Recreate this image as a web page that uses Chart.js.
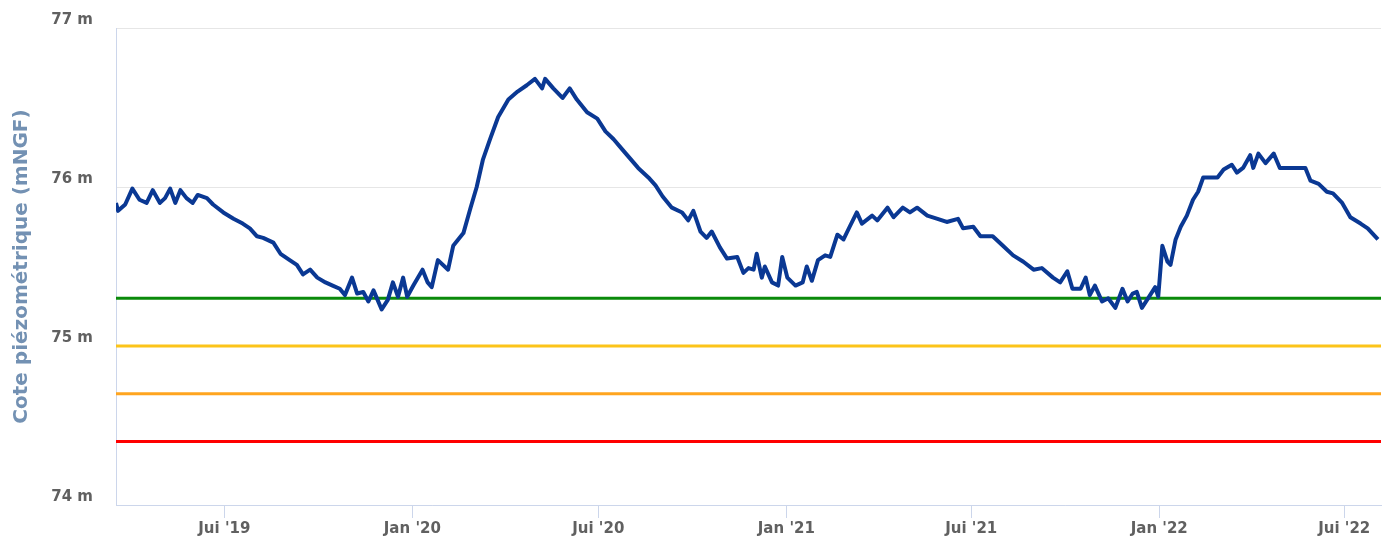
<html>
<head>
  <meta charset="utf-8">
  <title>Cote piézométrique</title>
  <script src="https://cdn.jsdelivr.net/npm/chart.js"></script>
  <style>
    body { margin: 0; background: white; }
    #wrap { width: 1390px; height: 540px; }
  </style>
</head>
<body>
<div id="wrap"><canvas id="chart" width="1390" height="540"></canvas></div>

<script>
// first day shown on the x axis, all offsets count days from it
const startDate = '2019-03-17';
const endOffset = 1238;

// groundwater level readings (days since startDate, metres NGF)
const dayOffsets = [
  0, 2, 9, 16, 23, 30, 36, 43, 48, 53, 58, 63, 69, 75, 80, 89, 95, 105, 115, 124,
  131, 138, 144, 154, 161, 170, 177, 183, 190, 197, 205, 212, 219, 224, 231, 236, 242, 247, 252, 256,
  260, 266, 271, 276, 281, 285, 291, 300, 305, 309, 315, 325, 330, 340, 347, 353, 359, 366, 374, 384,
  393, 402, 410, 417, 420, 428, 437, 444, 451, 461, 471, 479, 487, 495, 503, 511, 521, 528, 535, 544,
  554, 560, 565, 572, 578, 583, 591, 598, 608, 614, 619, 624, 627, 632, 635, 642, 648, 652, 657, 665,
  672, 676, 681, 687, 694, 699, 706, 712, 718, 725, 730, 740, 745, 755, 761, 770, 777, 784, 794, 804,
  813, 824, 829, 839, 846, 858, 868, 878, 888, 898, 906, 917, 924, 931, 936, 944, 949, 953, 958, 965,
  971, 978, 985, 990, 995, 999, 1004, 1010, 1017, 1020, 1024, 1029, 1032, 1037, 1042, 1048, 1054, 1059, 1064, 1071,
  1078, 1084, 1092, 1097, 1103, 1110, 1113, 1118, 1125, 1133, 1139, 1149, 1157, 1164, 1169, 1177, 1185, 1191, 1200, 1208,
  1218, 1225, 1235
];
const levels = [
  75.90, 75.85, 75.89, 75.99, 75.92, 75.90, 75.98, 75.90, 75.93, 75.99, 75.90, 75.98, 75.93, 75.90, 75.95, 75.93, 75.89, 75.84, 75.80, 75.77,
  75.74, 75.69, 75.68, 75.65, 75.58, 75.54, 75.51, 75.45, 75.48, 75.43, 75.40, 75.38, 75.36, 75.32, 75.43, 75.33, 75.34, 75.28, 75.35, 75.29,
  75.23, 75.29, 75.40, 75.31, 75.43, 75.31, 75.38, 75.48, 75.40, 75.37, 75.54, 75.48, 75.63, 75.71, 75.87, 76.00, 76.17, 76.30, 76.44, 76.55,
  76.60, 76.64, 76.68, 76.62, 76.68, 76.62, 76.56, 76.62, 76.55, 76.47, 76.43, 76.35, 76.30, 76.24, 76.18, 76.12, 76.06, 76.01, 75.94, 75.87,
  75.84, 75.79, 75.85, 75.72, 75.68, 75.72, 75.62, 75.55, 75.56, 75.46, 75.49, 75.48, 75.58, 75.43, 75.50, 75.40, 75.38, 75.56, 75.43, 75.38,
  75.40, 75.50, 75.41, 75.54, 75.57, 75.56, 75.70, 75.67, 75.75, 75.84, 75.77, 75.82, 75.79, 75.87, 75.81, 75.87, 75.84, 75.87, 75.82, 75.80,
  75.78, 75.80, 75.74, 75.75, 75.69, 75.69, 75.63, 75.57, 75.53, 75.48, 75.49, 75.43, 75.40, 75.47, 75.36, 75.36, 75.43, 75.32, 75.38, 75.28,
  75.30, 75.24, 75.36, 75.28, 75.33, 75.34, 75.24, 75.30, 75.37, 75.31, 75.63, 75.53, 75.51, 75.67, 75.75, 75.82, 75.92, 75.97, 76.06, 76.06,
  76.06, 76.11, 76.14, 76.09, 76.12, 76.20, 76.12, 76.21, 76.15, 76.21, 76.12, 76.12, 76.12, 76.12, 76.04, 76.02, 75.97, 75.96, 75.90, 75.81,
  75.77, 75.74, 75.67
];

// alert thresholds (m NGF)
const thresholdNames = ['vigilance', 'alerte', 'alerte renforcée', 'crise'];
const thresholdValues = [75.30, 75.00, 74.70, 74.40];
const thresholdColors = ['#0a8a0a', '#fcc419', '#ffa51f', '#ff0000'];

// x axis labels
const tickDates = ['2019-07-01', '2020-01-01', '2020-07-01', '2021-01-01', '2021-07-01', '2022-01-01', '2022-07-01'];
const tickLabels = ["Jui '19", "Jan '20", "Jui '20", "Jan '21", "Jui '21", "Jan '22", "Jui '22"];

// y axis
const yMin = 74, yMax = 77, yStep = 1;

function dayDiff(d) {
  return Math.round((Date.parse(d) - Date.parse(startDate)) / 86400000);
}
const tickOffsets = tickDates.map(dayDiff);

const levelPoints = dayOffsets.map((d, i) => ({ x: d, y: levels[i] }));

const datasets = [{
  label: 'Cote piézométrique',
  data: levelPoints,
  borderColor: '#0a3893',
  borderWidth: 4,
  pointRadius: 0,
  tension: 0,
  borderJoinStyle: 'round',
  order: 0
}];
thresholdValues.forEach((v, i) => {
  datasets.push({
    label: thresholdNames[i],
    data: [{ x: 0, y: v }, { x: endOffset, y: v }],
    borderColor: thresholdColors[i],
    borderWidth: 3,
    pointRadius: 0,
    order: 1
  });
});

const labelFont = { family: 'DejaVu Sans', size: 15, weight: 'bold' };

new Chart(document.getElementById('chart'), {
  type: 'line',
  data: { datasets: datasets },
  options: {
    responsive: false,
    animation: false,
    layout: { padding: { top: 28, right: 9, left: 0, bottom: 0 } },
    plugins: { legend: { display: false }, tooltip: { enabled: false } },
    scales: {
      x: {
        type: 'linear',
        min: 0,
        max: endOffset,
        afterBuildTicks: axis => { axis.ticks = tickOffsets.map(v => ({ value: v })); },
        afterFit: axis => { axis.height = 35; axis.paddingLeft = 0; axis.paddingRight = 0; },
        ticks: {
          autoSkip: false,
          maxRotation: 0,
          padding: 2,
          color: '#606060',
          font: labelFont,
          callback: (v) => tickLabels[tickOffsets.indexOf(v)]
        },
        grid: {
          drawOnChartArea: false,
          drawTicks: true,
          tickLength: 13,
          color: '#ccd6eb'
        },
        border: { color: '#ccd6eb', width: 1 }
      },
      y: {
        min: yMin,
        max: yMax,
        afterFit: axis => { axis.width = 116; axis.paddingTop = 0; axis.paddingBottom = 0; },
        ticks: {
          stepSize: yStep,
          padding: 23,
          labelOffset: -8,
          color: '#606060',
          font: labelFont,
          callback: v => v + ' m'
        },
        grid: { color: '#e6e6e6', drawTicks: false },
        border: { color: '#ccd6eb', width: 1 },
        title: {
          display: true,
          text: 'Cote piézométrique (mNGF)',
          color: '#7391b3',
          font: { family: 'DejaVu Sans', size: 20, weight: 'bold' },
          padding: { top: 10, bottom: 0 }
        }
      }
    }
  }
});
</script>
</body>
</html>
